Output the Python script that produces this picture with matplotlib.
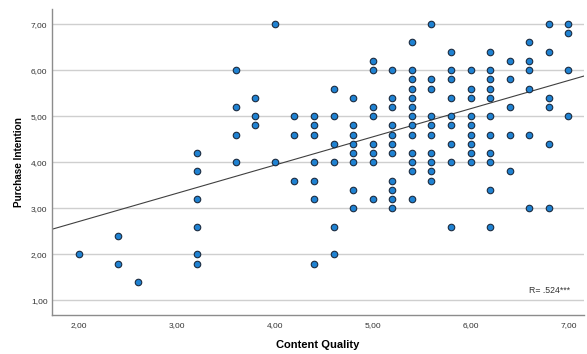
import matplotlib
matplotlib.use('Agg')
import matplotlib.pyplot as plt
import numpy as np

plt.rcParams['font.family'] = ['Liberation Sans', 'DejaVu Sans']

# Scores per respondent, grouped by content quality level
quality_levels = [2.0, 2.4, 2.6, 3.2, 3.6, 3.8, 4.0, 4.2, 4.4, 4.6, 4.8, 5.0,
                  5.2, 5.4, 5.6, 5.8, 6.0, 6.2, 6.4, 6.6, 6.8, 7.0]
intention_by_level = [
    [2.0],
    [2.4, 1.8],
    [1.4],
    [4.2, 3.8, 3.2, 2.6, 2.0, 1.8],
    [6.0, 5.2, 4.6, 4.0],
    [5.4, 5.0, 4.8],
    [7.0, 4.0],
    [5.0, 4.6, 3.6],
    [5.0, 4.8, 4.6, 4.0, 3.6, 3.2, 1.8],
    [5.6, 5.0, 4.4, 4.0, 2.6, 2.0],
    [5.4, 4.8, 4.6, 4.4, 4.2, 4.0, 3.4, 3.0],
    [6.2, 6.0, 5.2, 5.0, 4.4, 4.2, 4.0, 3.2],
    [6.0, 5.4, 5.2, 4.8, 4.6, 4.4, 4.2, 3.6, 3.4, 3.2, 3.0],
    [6.6, 6.0, 5.8, 5.6, 5.4, 5.2, 5.0, 4.8, 4.6, 4.2, 4.0, 3.8, 3.2],
    [7.0, 5.8, 5.6, 5.0, 4.8, 4.6, 4.2, 4.0, 3.8, 3.6],
    [6.4, 6.0, 5.8, 5.4, 5.0, 4.8, 4.4, 4.0, 2.6],
    [6.0, 5.6, 5.4, 5.0, 4.8, 4.6, 4.4, 4.2, 4.0],
    [6.4, 6.0, 5.8, 5.6, 5.4, 5.0, 4.6, 4.2, 4.0, 3.4, 2.6],
    [6.2, 5.8, 5.2, 4.6, 3.8],
    [6.6, 6.2, 6.0, 5.6, 4.6, 3.0],
    [7.0, 6.4, 5.4, 5.2, 4.4, 3.0],
    [7.0, 6.8, 6.0, 5.0],
]

# Linear fit line
fit_intercept = 1.49
fit_slope = 0.612
r_label = 'R= .524***'

x_ticks = [2, 3, 4, 5, 6, 7]
y_ticks = [1, 2, 3, 4, 5, 6, 7]

quality = np.concatenate([[q] * len(v) for q, v in zip(quality_levels, intention_by_level)])
intention = np.concatenate(intention_by_level)

fig = plt.figure(figsize=(5.87, 3.54), dpi=100)
ax = fig.add_axes([0.088, 0.109, 0.907, 0.866])

x_min, x_max = 1.72, 7.16
ax.set_xlim(x_min, x_max)
ax.set_ylim(0.674, 7.33)

for y in y_ticks:
    ax.axhline(y, color='#cfcfcf', lw=1.0, zorder=0)

line_x = np.array([x_min, x_max])
ax.plot(line_x, fit_intercept + fit_slope * line_x, color='#404040', lw=0.8, zorder=1)

ax.scatter(quality, intention, s=22, facecolor='#1f82d2', edgecolor='#1c2c40',
           linewidths=0.8, zorder=2)

ax.set_xticks(x_ticks)
ax.set_yticks(y_ticks)
ax.set_xticklabels(['{:.2f}'.format(t).replace('.', ',') for t in x_ticks], fontsize=6, color='#333333')
ax.set_yticklabels(['{:.2f}'.format(t).replace('.', ',') for t in y_ticks], fontsize=6, color='#333333')
ax.tick_params(axis='x', length=0, pad=5)
ax.tick_params(axis='y', length=0, pad=3)

for side in ['top', 'right']:
    ax.spines[side].set_visible(False)
for side in ['left', 'bottom']:
    ax.spines[side].set_color('#8c8c8c')
    ax.spines[side].set_linewidth(1.0)

ax.set_xlabel('Content Quality', fontsize=8, fontweight='bold', labelpad=8)
ax.set_ylabel('Purchase Intention', fontsize=7.2, fontweight='bold', labelpad=5)

ax.text(6.81, 1.21, r_label, fontsize=6.3, color='#333333', ha='center', va='center')

fig.savefig('out.png', dpi=100)
